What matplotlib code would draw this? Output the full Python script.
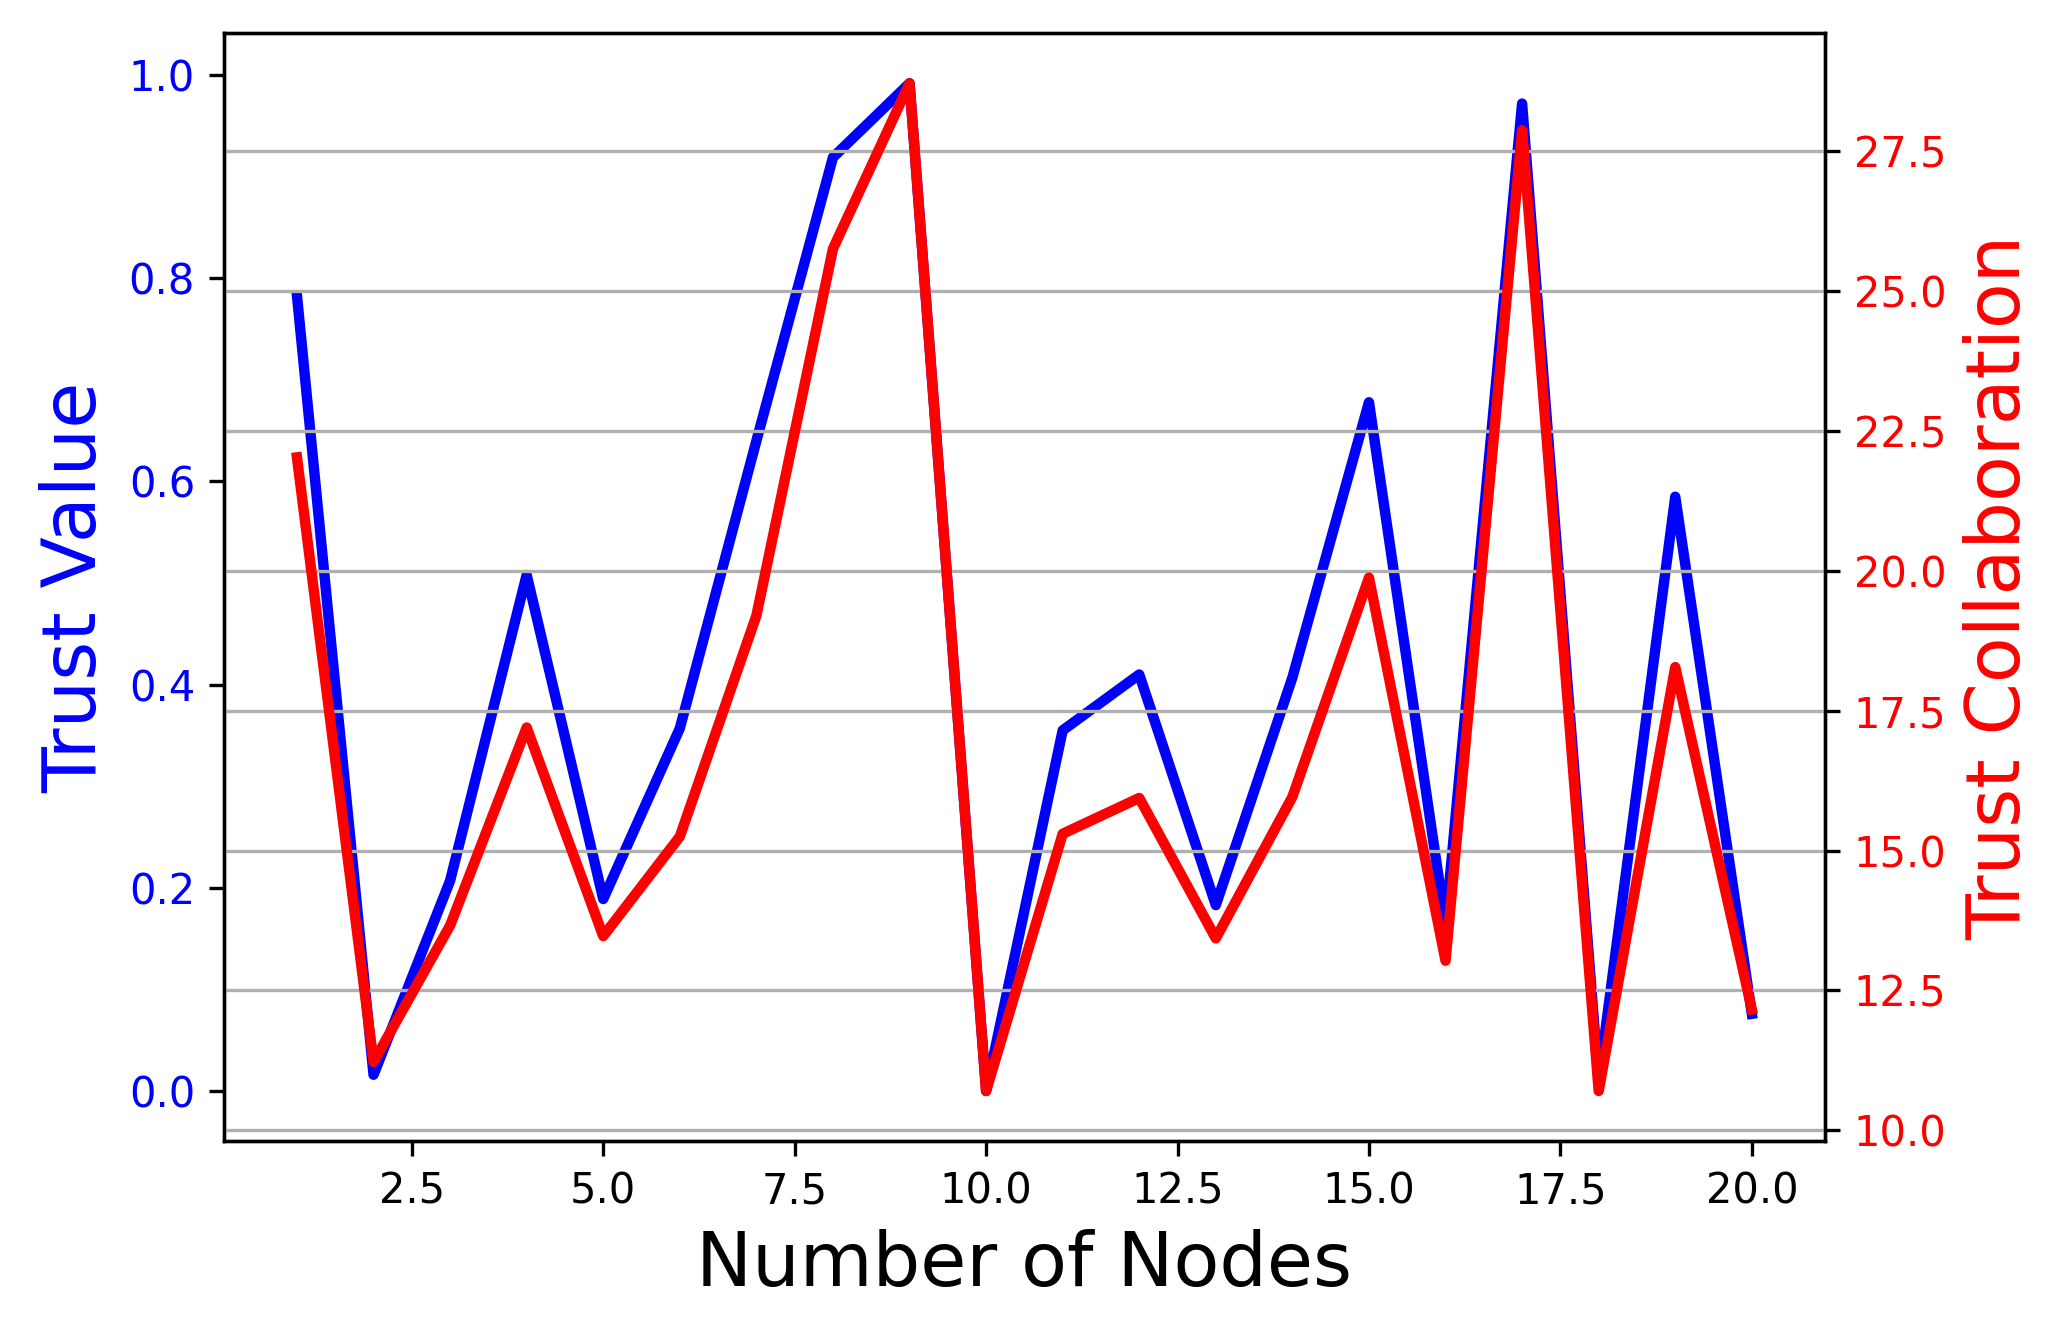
import numpy as np
import matplotlib
matplotlib.use("Agg")
import matplotlib.pyplot as plt

# values
nodes = list(range(1, 21))
trust_value = [0.783, 0.016, 0.207, 0.508, 0.189, 0.357, 0.640, 0.919, 0.992, 0.0,
               0.355, 0.410, 0.183, 0.407, 0.678, 0.164, 0.972, 0.009, 0.585, 0.076]
trust_collab = [22.03, 11.22, 13.66, 17.20, 13.47, 15.25, 19.20, 25.76, 28.72, 10.70,
                15.30, 15.94, 13.43, 15.96, 19.88, 13.03, 27.88, 10.70, 18.28, 12.16]

fig = plt.figure(figsize=(2057 / 300, 1320 / 300), dpi=300)
ax1 = fig.add_axes([0.109, 0.1353, 0.778, 0.8398])

ax1.plot(nodes, trust_value, color="b", linewidth=2.5)
ax1.set_xlabel("Number of Nodes", fontsize=18)
ax1.set_ylabel("Trust Value", color="b", fontsize=18)
ax1.tick_params(axis="y", labelcolor="b")

ax2 = ax1.twinx()
ax2.plot(nodes, trust_collab, color="r", linewidth=2.5)
ax2.set_ylabel("Trust Collaboration", color="r", fontsize=18)
ax2.tick_params(axis="y", labelcolor="r")
ax2.grid(True, axis="y")

fig.savefig("out.png", dpi=300)
